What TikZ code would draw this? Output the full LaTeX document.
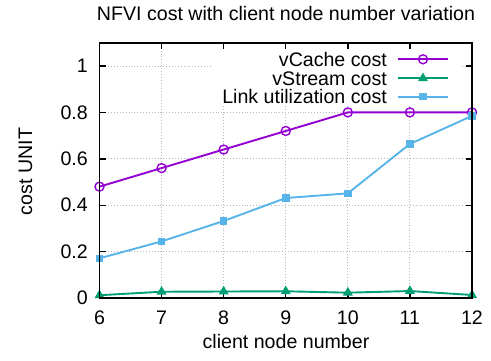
\documentclass[tikz,border=0pt]{standalone}
\usepackage{fontspec}
\setmainfont{Liberation Sans}
\usetikzlibrary{shapes.geometric}
\definecolor{cachecol}{HTML}{9400D3}
\definecolor{streamcol}{HTML}{009E73}
\definecolor{linkcol}{HTML}{56B4E9}

\begin{document}
\begin{tikzpicture}[x=1pt, y=-1pt,
  font=\fontsize{19.6}{23}\selectfont,
  gridline/.style={gray!55, dotted, line width=0.9pt},
  tickmark/.style={black, line width=1.4pt},
  frameline/.style={black, line width=1.9pt},
  cache line/.style={cachecol, line width=1.9pt},
  stream line/.style={streamcol, line width=1.9pt},
  link line/.style={linkcol, line width=1.9pt},
  cache mark/.style={circle, draw=cachecol, line width=1.4pt, inner sep=0pt, minimum size=9pt},
  stream mark/.style={regular polygon, regular polygon sides=3, fill=streamcol, inner sep=0pt, minimum size=11.5pt},
  link mark/.style={rectangle, fill=linkcol, inner sep=0pt, minimum size=7.5pt},
  ticklabel/.style={inner sep=0pt}]

\useasboundingbox (0,0) rectangle (491,360);

% titles
\node[anchor=base, inner sep=0pt] (title) at (286,20.7) {NFVI cost with client node number variation};
\node[anchor=base, inner sep=0pt] (xlabel) at (286,348) {client node number};
\node[anchor=base, rotate=90, inner sep=0pt] (ylabel) at (32,171.5) {cost UNIT};

% data coordinates: x in client nodes, y in cost units
\begin{scope}[xshift=-273pt, yshift=-298pt, x=62.0833pt, y=232pt]
  % grid
  \foreach \gx in {7,...,11}
    \draw[gridline] (\gx,0) -- (\gx,1.1);
  \foreach \gy in {0.2,0.4,0.6,0.8,1}
    \draw[gridline] (6,\gy) -- (12,\gy);
  % space kept clear behind the key
  \fill[white] (7.8,1.1) rectangle (11.8,0.827);

  % ticks and tick labels
  \foreach \gx in {6,...,12} {
    \draw[tickmark] (\gx,0) -- ++(0pt,6pt);
    \draw[tickmark] (\gx,1.1) -- ++(0pt,-6pt);
    \node[ticklabel, anchor=base] (xt\gx) at ([yshift=-26.5pt]\gx,0) {\gx};
  }
  \foreach \gy/\lab [count=\k] in {0/0,0.2/0.2,0.4/0.4,0.6/0.6,0.8/0.8,1/1} {
    \draw[tickmark] (6,\gy) -- ++(6pt,0pt);
    \draw[tickmark] (12,\gy) -- ++(-6pt,0pt);
    \node[ticklabel, anchor=east] (yt\k) at ([xshift=-11.5pt]6,\gy) {\lab};
  }

  % series
  \foreach \px/\pv in {6/0.48,7/0.56,8/0.64,9/0.72,10/0.80,11/0.80,12/0.80}
    \coordinate (c\px) at (\px,\pv);
  \foreach \px/\pv in {6/0.012,7/0.027,8/0.028,9/0.029,10/0.023,11/0.030,12/0.013}
    \coordinate (s\px) at (\px,\pv);
  \foreach \px/\pv in {6/0.171,7/0.244,8/0.332,9/0.431,10/0.451,11/0.664,12/0.785}
    \coordinate (l\px) at (\px,\pv);

  \draw[cache line] (c6) -- (c7) -- (c8) -- (c9) -- (c10) -- (c11) -- (c12);
  \draw[stream line] (s6) -- (s7) -- (s8) -- (s9) -- (s10) -- (s11) -- (s12);
  \draw[link line] (l6) -- (l7) -- (l8) -- (l9) -- (l10) -- (l11) -- (l12);
  \foreach \px in {6,...,12} {
    \node[cache mark] (mc\px) at (c\px) {};
    \node[stream mark] (ms\px) at (s\px) {};
    \node[link mark] (ml\px) at (l\px) {};
  }

  % frame
  \draw[frameline] (6,0) rectangle (12,1.1);
\end{scope}

% key
\foreach \row/\lab/\kind [count=\k] in {59.3/vCache cost/cache, 78.3/vStream cost/stream, 96.7/Link utilization cost/link} {
  \node[anchor=base east, inner sep=0pt] (keytext\k) at (387,\row+6.8) {\lab};
  \coordinate (keya\k) at (398,\row);
  \coordinate (keyb\k) at (448,\row);
  \draw[\kind\space line] (keya\k) -- (keyb\k);
  \node[\kind\space mark] (keymark\k) at (423,\row) {};
}
\end{tikzpicture}
\end{document}
